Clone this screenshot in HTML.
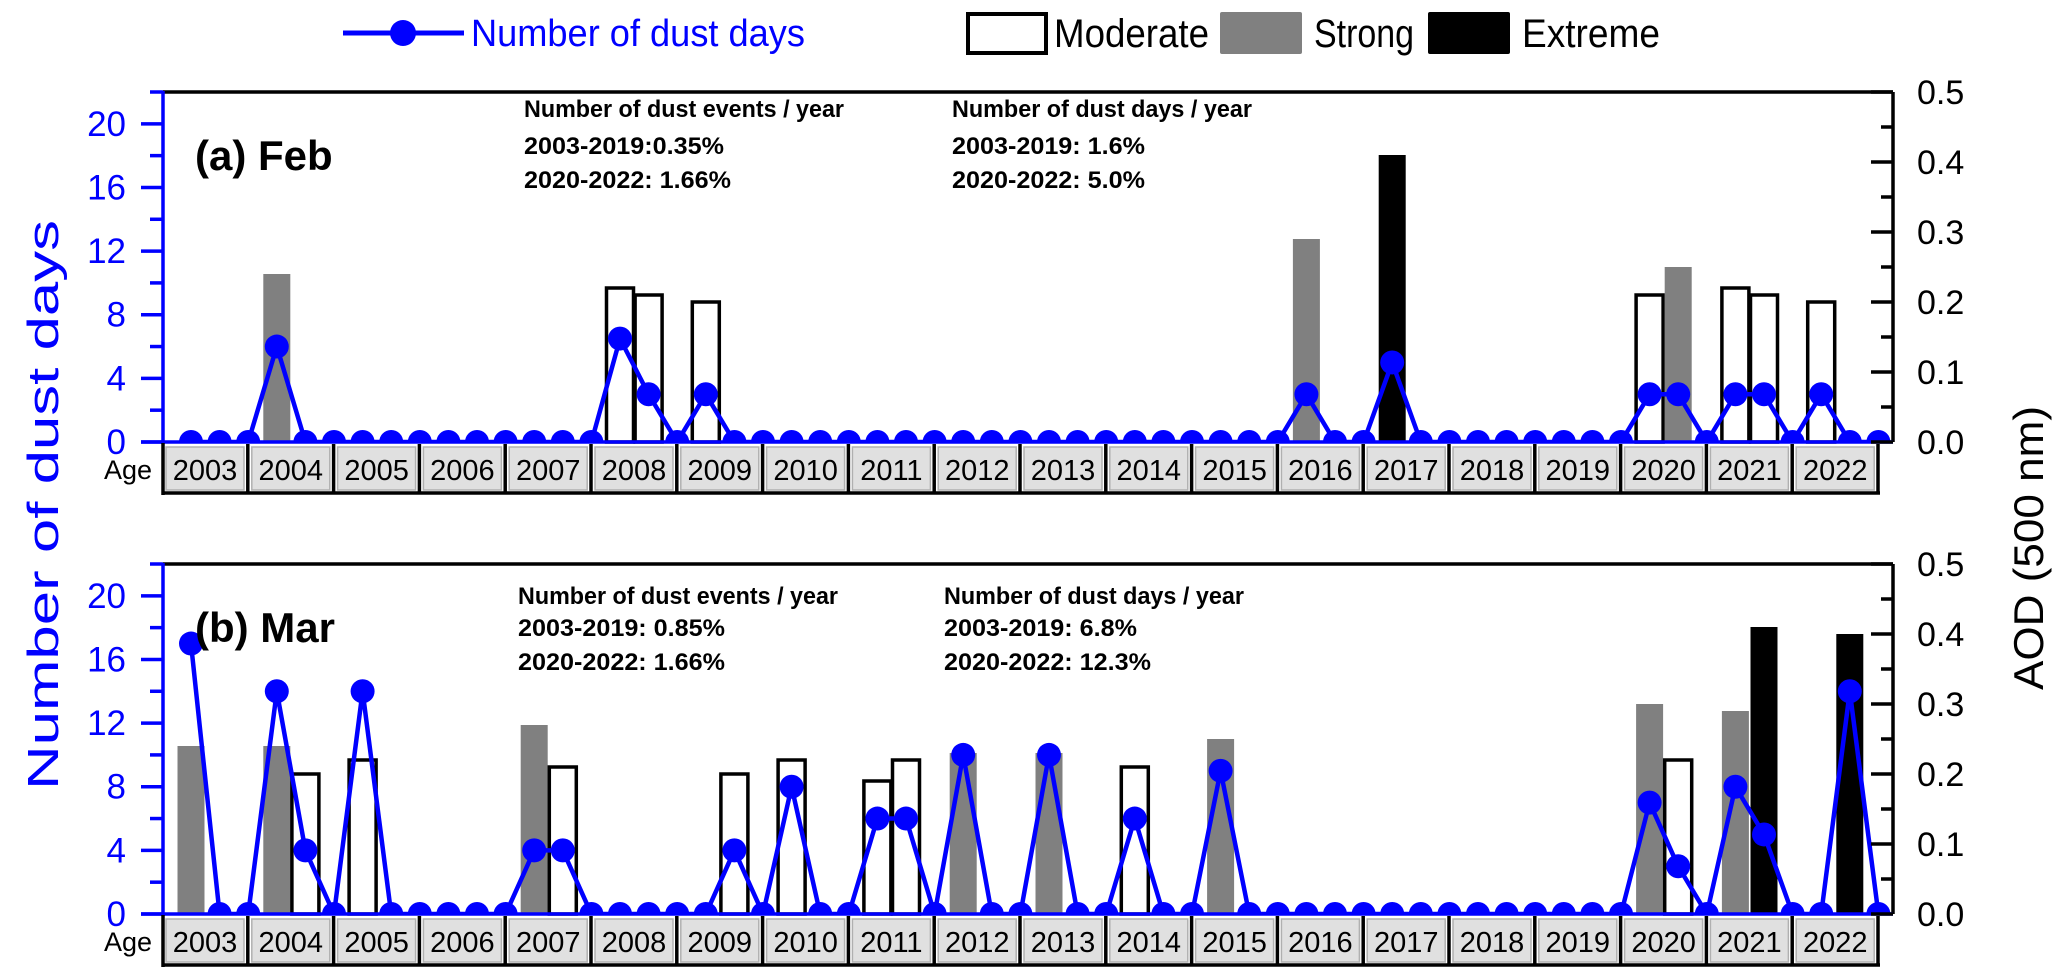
<!DOCTYPE html>
<html><head><meta charset="utf-8"><style>
html,body{margin:0;padding:0;background:#fff;}
svg{display:block;font-family:"Liberation Sans",Arial,sans-serif;}
</style></head><body>
<svg id="chart" width="2067" height="975" viewBox="0 0 2067 975" xmlns="http://www.w3.org/2000/svg">
<g id="legend">
  <g>
    <line x1="343" y1="33" x2="464" y2="33" stroke="#0000ff" stroke-width="5"/>
    <circle cx="403" cy="33" r="13" fill="#0000ff"/>
    <text x="471" y="46" font-size="38" fill="#0000ff" textLength="334" lengthAdjust="spacingAndGlyphs">Number of dust days</text>
  </g>
  <g>
    <rect x="968" y="14" width="78" height="39" fill="#fff" stroke="#000" stroke-width="4"/>
    <text x="1054" y="47" font-size="40" fill="#000" textLength="155" lengthAdjust="spacingAndGlyphs">Moderate</text>
  </g>
  <g>
    <rect x="1220" y="12" width="82" height="42" rx="2" fill="#808080"/>
    <text x="1314" y="47" font-size="40" fill="#000" textLength="100" lengthAdjust="spacingAndGlyphs">Strong</text>
  </g>
  <g>
    <rect x="1428" y="12" width="82" height="42" rx="2" fill="#000"/>
    <text x="1522" y="47" font-size="40" fill="#000" textLength="138" lengthAdjust="spacingAndGlyphs">Extreme</text>
  </g>
</g>
<text transform="translate(58,505) rotate(-90)" text-anchor="middle" font-size="44" fill="#0000ff" textLength="570" lengthAdjust="spacingAndGlyphs">Number of dust days</text>
<text transform="translate(2043,548) rotate(-90)" text-anchor="middle" font-size="42" fill="#000" textLength="284" lengthAdjust="spacingAndGlyphs">AOD (500 nm)</text>
</svg>
<script>
const years = ["2003","2004","2005","2006","2007","2008","2009","2010","2011","2012","2013","2014","2015","2016","2017","2018","2019","2020","2021","2022"];
const yTicks = [0,4,8,12,16,20];
const aodTicks = ["0.0","0.1","0.2","0.3","0.4","0.5"];
// Feb: dust days per slot (3 slots per year)
const febDays = [0,0,0, 6,0,0, 0,0,0, 0,0,0, 0,0,0, 6.5,3,0, 3,0,0, 0,0,0, 0,0,0, 0,0,0, 0,0,0, 0,0,0, 0,0,0, 3,0,0, 5,0,0, 0,0,0, 0,0,0, 3,3,0, 3,3,0, 3,0,0];
const febBarSlot = [3, 15, 16, 18, 39, 42, 51, 52, 54, 55, 57];
const febBarAod  = [0.24, 0.22, 0.21, 0.20, 0.29, 0.41, 0.21, 0.25, 0.22, 0.21, 0.20];
const febBarCat  = ["strong","moderate","moderate","moderate","strong","extreme","moderate","strong","moderate","moderate","moderate"];
// Mar
const marDays = [17,0,0, 14,4,0, 14,0,0, 0,0,0, 4,4,0, 0,0,0, 0,4,0, 8,0,0, 6,6,0, 10,0,0, 10,0,0, 6,0,0, 9,0,0, 0,0,0, 0,0,0, 0,0,0, 0,0,0, 7,3,0, 8,5,0, 0,14,0];
const marBarSlot = [0, 3, 4, 6, 12, 13, 19, 21, 24, 25, 27, 30, 33, 36, 51, 52, 54, 55, 58];
const marBarAod  = [0.24, 0.24, 0.20, 0.22, 0.27, 0.21, 0.20, 0.22, 0.19, 0.22, 0.23, 0.23, 0.21, 0.25, 0.30, 0.22, 0.29, 0.41, 0.40];
const marBarCat  = ["strong","strong","moderate","moderate","strong","moderate","moderate","moderate","moderate","moderate","strong","strong","moderate","strong","strong","moderate","strong","extreme","extreme"];

const NS = "http://www.w3.org/2000/svg";
const svg = document.getElementById('chart');
const LEFT = 163, RIGHT = 1893;
function xSlot(i){ return 191 + 28.6*i; }
function mk(tag, attrs, parent){ const e=document.createElementNS(NS,tag); for(const k in attrs) e.setAttribute(k,attrs[k]); (parent||svg).appendChild(e); return e; }

function panel(id, top, y0, label, days, bSlot, bAod, bCat, notes){
  const pxDay = (y0-top)/22;
  const pxAod = (y0-top)/0.5;
  const yD = v => y0 - v*pxDay;
  const yA = v => y0 - v*pxAod;
  const g = mk('g', {});
  
  
  const clipId = id+'-clip';
  const cp = mk('clipPath',{id:clipId}, g);
  mk('rect',{x:LEFT,y:top,width:RIGHT-LEFT,height:y0-top},cp);
  const colors = {moderate:'#fff', strong:'#808080', extreme:'#000'};
  for(let k=0;k<bSlot.length;k++){
    const cx = xSlot(bSlot[k]);
    const h = bAod[k]*pxAod;
    const r = mk('rect',{x:cx-13.5,y:yA(bAod[k]),width:27,height:h,fill:colors[bCat[k]],stroke:bCat[k]==='moderate'?'#000':'none','stroke-width':3.5},g);
    
    
  }
  let d='';
  days.forEach((v,i)=>{ d += (i?'L':'M')+xSlot(i).toFixed(1)+' '+yD(v).toFixed(1); });
  const ln = mk('path',{d:d,fill:'none',stroke:'#0000ff','stroke-width':4.5,'clip-path':'url(#'+clipId+')'},g);
  
  
  days.forEach((v,i)=>{
    const c = mk('circle',{cx:xSlot(i),cy:yD(v),r:12,fill:'#0000ff','clip-path':'url(#'+clipId+')'},g);
    
    
  });
  mk('line',{x1:LEFT,y1:top,x2:RIGHT,y2:top,stroke:'#000','stroke-width':3.5},g);
  mk('line',{x1:RIGHT,y1:top,x2:RIGHT,y2:y0,stroke:'#000','stroke-width':3.5},g);
  mk('line',{x1:LEFT,y1:top-1,x2:LEFT,y2:y0+2,stroke:'#0000ff','stroke-width':3.5},g);
  mk('line',{x1:141,y1:y0,x2:RIGHT,y2:y0,stroke:'#0000ff','stroke-width':3.5},g);
  for(let v=0; v<=22; v+=2){
    const major = yTicks.includes(v);
    mk('line',{x1:major?141:150,y1:yD(v),x2:LEFT,y2:yD(v),stroke:'#0000ff','stroke-width':3.5},g);
  }
  yTicks.forEach(v=>{
    const t = mk('text',{x:126,y:yD(v)+12,'text-anchor':'end','font-size':35,fill:'#0000ff'},g);
    t.textContent = v;
    
    
  });
  for(let k=0;k<=10;k++){
    const v = k*0.05;
    const major = k%2===0;
    mk('line',{x1:major?1871:1881,y1:yA(v),x2:RIGHT,y2:yA(v),stroke:'#000','stroke-width':3.5},g);
  }
  aodTicks.forEach(s=>{
    const t = mk('text',{x:1917,y:yA(parseFloat(s))+12,'font-size':34,fill:'#000'},g);
    t.textContent = s;
    
    
  });
  const rTop = y0+2, rBot = y0+51;
  const ageT = mk('text',{x:152,y:y0+37,'text-anchor':'end','font-size':27,fill:'#000'},g);
  ageT.textContent='Age';
  
  
  years.forEach((yr,j)=>{
    const x0 = 162 + 85.8*j;
    const b = mk('rect',{x:x0+4,y:rTop+3,width:78,height:rBot-rTop-6,fill:'#e0e0e0',stroke:'#b0b0b0','stroke-width':1.5},g);
    
    
    mk('line',{x1:x0+85.8,y1:rTop,x2:x0+85.8,y2:rBot,stroke:'#000','stroke-width':3.5},g);
    const t = mk('text',{x:x0+43,y:y0+38,'text-anchor':'middle','font-size':29,fill:'#000'},g);
    t.textContent = yr;
    
    
  });
  mk('line',{x1:LEFT,y1:rTop-1,x2:LEFT,y2:rBot+2,stroke:'#000','stroke-width':3.5},g);
  mk('line',{x1:LEFT,y1:rBot,x2:1880,y2:rBot,stroke:'#000','stroke-width':3.5},g);
  const pl = mk('text',{x:195,y:top+78,'font-size':42,'font-weight':'bold',fill:'#000'},g);
  pl.textContent = label;
  
  
  notes.forEach(n=>{
    const t = mk('text',{x:n[0],y:n[1],'font-size':24,'font-weight':'bold',fill:'#000',textLength:n[3],lengthAdjust:'spacingAndGlyphs'},g);
    t.textContent = n[2];
    
    
  });
}
panel('feb', 92, 442, '(a) Feb', febDays, febBarSlot, febBarAod, febBarCat, [
  [524,117,'Number of dust events / year',320],[524,154,'2003-2019:0.35%',200],[524,188,'2020-2022: 1.66%',207],
  [952,117,'Number of dust days / year',300],[952,154,'2003-2019: 1.6%',193],[952,188,'2020-2022: 5.0%',193]]);
panel('mar', 564, 914, '(b) Mar', marDays, marBarSlot, marBarAod, marBarCat, [
  [518,604,'Number of dust events / year',320],[518,636,'2003-2019: 0.85%',207],[518,670,'2020-2022: 1.66%',207],
  [944,604,'Number of dust days / year',300],[944,636,'2003-2019: 6.8%',193],[944,670,'2020-2022: 12.3%',207]]);
</script>
</body></html>
